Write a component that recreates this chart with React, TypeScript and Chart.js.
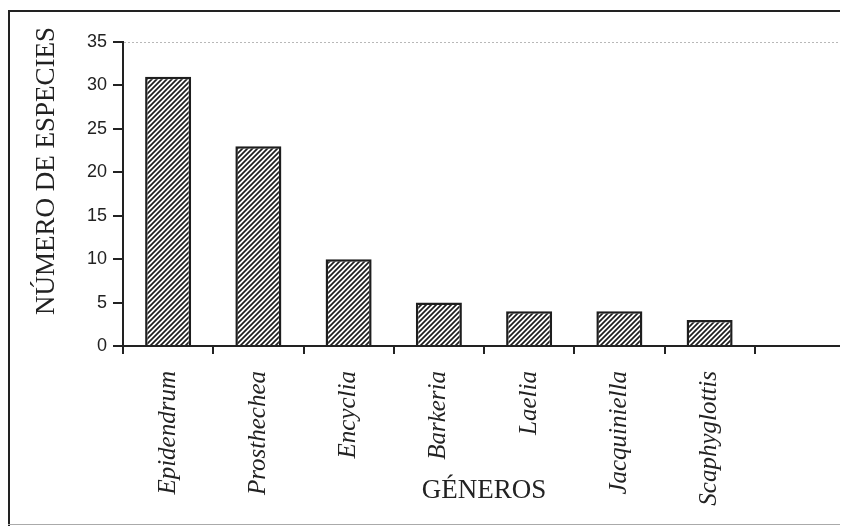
import React, { useEffect, useRef } from "react";
import { Chart, registerables } from "chart.js";

Chart.register(...registerables);

const categories = [
  "Epidendrum",
  "Prosthechea",
  "Encyclia",
  "Barkeria",
  "Laelia",
  "Jacquiniella",
  "Scaphyglottis",
  "",
];
const speciesCounts = [31, 23, 10, 5, 4, 4, 3, null];
const yTitle = "NÚMERO DE ESPECIES";
const xTitle = "GÉNEROS";
const yMin = 0;
const yMax = 35;
const yStep = 5;

function makePattern(ctx: CanvasRenderingContext2D) {
  const s = 5;
  const c = document.createElement("canvas");
  c.width = s;
  c.height = s;
  const g = c.getContext("2d")!;
  g.fillStyle = "#ffffff";
  g.fillRect(0, 0, s, s);
  g.strokeStyle = "#1e1e1e";
  g.lineWidth = 1.7;
  g.beginPath();
  g.moveTo(-1, s + 1);
  g.lineTo(s + 1, -1);
  g.moveTo(-1, 1);
  g.lineTo(1, -1);
  g.moveTo(s - 1, s + 1);
  g.lineTo(s + 1, s - 1);
  g.stroke();
  return ctx.createPattern(c, "repeat")!;
}

const decorPlugin = {
  id: "decor",
  afterDraw(chart: any) {
    const { ctx, chartArea, width, height } = chart;
    ctx.save();
    // dotted plot border top & right
    ctx.strokeStyle = "#b8b8b8";
    ctx.lineWidth = 1;
    ctx.setLineDash([2, 2]);
    ctx.beginPath();
    ctx.moveTo(chartArea.left + 1, chartArea.top + 0.5);
    ctx.lineTo(chartArea.right, chartArea.top + 0.5);
    ctx.lineTo(chartArea.right + 0.5, chartArea.bottom - 1);
    ctx.stroke();
    ctx.setLineDash([]);
    // outer frame
    ctx.strokeStyle = "#222";
    ctx.lineWidth = 2;
    ctx.beginPath();
    ctx.moveTo(1, height);
    ctx.lineTo(1, 3);
    ctx.lineTo(width, 3);
    ctx.stroke();
    ctx.strokeStyle = "#aaa";
    ctx.lineWidth = 1;
    ctx.beginPath();
    ctx.moveTo(0, 516.5);
    ctx.lineTo(width, 516.5);
    ctx.stroke();
    // titles
    ctx.fillStyle = "#222";
    ctx.font = "27px 'Liberation Serif'";
    ctx.textAlign = "center";
    ctx.textBaseline = "alphabetic";
    ctx.save();
    ctx.translate(46, 163);
    ctx.rotate(-Math.PI / 2);
    ctx.fillText(yTitle, 0, 0);
    ctx.restore();
    ctx.font = "27px 'Liberation Serif'";
    ctx.fillText(xTitle, (chartArea.left + chartArea.right) / 2, 490);
    ctx.restore();
  },
};

export default function App() {
  const ref = useRef<HTMLCanvasElement>(null);
  useEffect(() => {
    const canvas = ref.current!;
    const ctx = canvas.getContext("2d")!;
    const pattern = makePattern(ctx);
    const chart = new Chart(canvas, {
      type: "bar",
      data: {
        labels: categories,
        datasets: [
          {
            data: speciesCounts as any,
            backgroundColor: pattern as any,
            borderColor: "#1e1e1e",
            borderWidth: 2.5,
            barPercentage: 0.51,
            categoryPercentage: 1,
          },
        ],
      },
      options: {
        animation: false,
        responsive: false,
        maintainAspectRatio: false,
        layout: { padding: { left: 0, top: 34, right: 3, bottom: 0 } },
        plugins: { legend: { display: false }, tooltip: { enabled: false } },
        scales: {
          x: {
            afterFit: (s: any) => {
              s.height = 180;
            },
            grid: {
              offset: true,
              drawOnChartArea: false,
              drawTicks: true,
              tickLength: 8,
              color: "#222",
              lineWidth: 2,
            },
            border: { display: true, color: "#222", width: 2 },
            ticks: {
              autoSkip: false,
              minRotation: 90,
              maxRotation: 90,
              padding: 17,
              color: "#222",
              font: { family: "'Liberation Serif'", size: 25, style: "italic" },
            },
          },
          y: {
            min: yMin,
            max: yMax,
            afterFit: (s: any) => {
              s.width = 115;
            },
            grid: {
              drawOnChartArea: false,
              drawTicks: true,
              tickLength: 10,
              color: "#222",
              lineWidth: 2,
            },
            border: { display: true, color: "#222", width: 2 },
            ticks: {
              stepSize: yStep,
              padding: 6,
              color: "#222",
              font: { family: "'Liberation Sans'", size: 18 },
            },
          },
        },
      },
      plugins: [decorPlugin],
    });
    return () => chart.destroy();
  }, []);
  return (
    <div style={{ width: 840, height: 518 }}>
      <canvas ref={ref} width={840} height={518} style={{ display: "block" }} />
    </div>
  );
}
